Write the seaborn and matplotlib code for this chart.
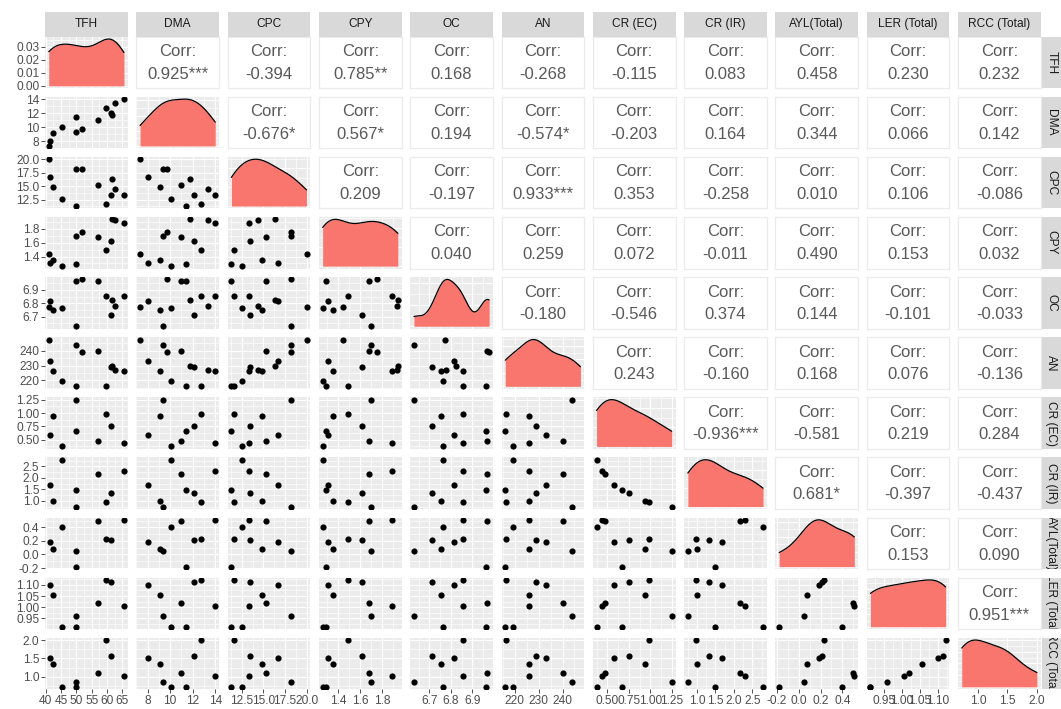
import numpy as np
import pandas as pd
import seaborn as sns
import matplotlib
matplotlib.use("Agg")
import matplotlib.pyplot as plt
from matplotlib.ticker import MaxNLocator, FixedLocator

sns.set_style("white")
plt.rcParams["font.family"] = ["Liberation Sans", "DejaVu Sans"]

nan = np.nan

# ---- data -------------------------------------------------------------
var_names = ["TFH", "DMA", "CPC", "CPY", "OC", "AN", "CR (EC)", "CR (IR)",
             "AYL(Total)", "LER (Total)", "RCC (Total)"]

tfh = [41.0, 41.4, 42.3, 45.4, 49.8, 49.9, 51.8, 57.1, 59.7, 61.3, 61.7, 62.7, 65.5]
dma = [7.33, 8.0, 9.11, 10.08, 9.37, 11.42, 9.72, 10.98, 12.74, 12.09, 11.8, 13.38, 14.0]
cpc = [20.0, 16.7, 14.9, 12.56, 18.2, 11.3, 18.2, 15.3, 11.6, 13.4, 16.3, 14.4, 13.35]
cpy = [1.44, 1.31, 1.35, 1.26, 1.70, 1.29, 1.75, 1.68, 1.49, 1.62, 1.94, 1.93, 1.89]
oc = [6.772, 6.815, 6.752, 6.765, 6.628, 6.965, 6.978, 6.970, 6.857, 6.710, 6.822, 6.777, 6.857]
an = [247.5, 233.0, 226.0, 219.3, 244.0, 216.0, 239.4, 240.0, 216.2, 229.0, 230.0, 227.3, 226.0]
cr_ec = [nan, 0.58, 0.94, 0.375, 1.25, 0.67, nan, 0.47, 0.99, 0.75, nan, nan, 0.44]
cr_ir = [nan, 1.67, 1.01, 2.79, 0.75, 1.48, nan, 2.16, 0.97, 1.33, nan, nan, 2.31]
ayl = [nan, 0.19, 0.08, 0.40, 0.05, -0.18, nan, 0.50, 0.23, 0.21, nan, nan, 0.51]
ler = [nan, 1.10, 1.055, 0.913, 0.96, 0.913, nan, 1.02, 1.122, 1.115, nan, nan, 1.005]
rcc = [nan, 1.50, 1.336, 0.727, 0.864, 0.727, nan, 1.11, 2.0, 1.56, nan, nan, 1.02]

# axis break labels for each variable
ticks_tfh = ["40", "45", "50", "55", "60", "65"]
ticks_dma = ["8", "10", "12", "14"]
ticks_cpc = ["12.5", "15.0", "17.5", "20.0"]
ticks_cpy = ["1.4", "1.6", "1.8"]
ticks_oc = ["6.7", "6.8", "6.9"]
ticks_an = ["220", "230", "240"]
ticks_cr_ec = ["0.50", "0.75", "1.00", "1.25"]
ticks_cr_ir = ["1.0", "1.5", "2.0", "2.5"]
ticks_ayl = ["-0.2", "0.0", "0.2", "0.4"]
ticks_ler = ["0.95", "1.00", "1.05", "1.10"]
ticks_rcc = ["1.0", "1.5", "2.0"]
ticks_density = ["0.00", "0.01", "0.02", "0.03"]

# correlation labels, upper triangle, row by row
corr_labels = [
    ["0.925***", "-0.394", "0.785**", "0.168", "-0.268", "-0.115", "0.083", "0.458", "0.230", "0.232"],
    ["-0.676*", "0.567*", "0.194", "-0.574*", "-0.203", "0.164", "0.344", "0.066", "0.142"],
    ["0.209", "-0.197", "0.933***", "0.353", "-0.258", "0.010", "0.106", "-0.086"],
    ["0.040", "0.259", "0.072", "-0.011", "0.490", "0.153", "0.032"],
    ["-0.180", "-0.546", "0.374", "0.144", "-0.101", "-0.033"],
    ["0.243", "-0.160", "0.168", "0.076", "-0.136"],
    ["-0.936***", "-0.581", "0.219", "0.284"],
    ["0.681*", "-0.397", "-0.437"],
    ["0.153", "0.090"],
    ["0.951***"],
]

df = pd.DataFrame(dict(zip(var_names, [tfh, dma, cpc, cpy, oc, an, cr_ec, cr_ir, ayl, ler, rcc])))
tick_map = dict(zip(var_names, [ticks_tfh, ticks_dma, ticks_cpc, ticks_cpy, ticks_oc, ticks_an,
                                ticks_cr_ec, ticks_cr_ir, ticks_ayl, ticks_ler, ticks_rcc]))

# ---- style ------------------------------------------------------------
PANEL_BG = "#EBEBEB"
STRIP_BG = "#D9D9D9"
FILL = "#F8766D"
TICK_TXT = "#4D4D4D"
TICK_COL = "#333333"
TEXT_COL = "#595959"
TICK_FS = 8.6
STRIP_FS = 8.6
CORR_FS = 12

W, H = 1061, 709
fig = plt.figure(figsize=(W / 100, H / 100), dpi=100)

COL_X0, COL_STEP, PANEL_W = 45.0, 91.3, 82.7
ROW_Y0, ROW_STEP, PANEL_H = 36.7, 60.1, 51.5
STRIP_TOP, STRIP_H = 11.7, 25.0
RSTRIP_X, RSTRIP_W = 1041.5, 19.5


def px_axes(x0, y0, w, h):
    return fig.add_axes([x0 / W, 1 - (y0 + h) / H, w / W, h / H])


def limits(v):
    v = pd.Series(v).dropna()
    lo, hi = v.min(), v.max()
    pad = 0.05 * (hi - lo)
    return lo - pad, hi + pad


def minor_from(major, lo, hi):
    if len(major) < 2:
        return []
    step = major[1] - major[0]
    cand = [m - step / 2 for m in major] + [major[-1] + step / 2]
    return [c for c in cand if lo <= c <= hi]


def style_grid(ax, xmaj, ymaj):
    xlo, xhi = ax.get_xlim()
    ylo, yhi = ax.get_ylim()
    ax.xaxis.set_major_locator(FixedLocator(xmaj))
    ax.yaxis.set_major_locator(FixedLocator(ymaj))
    ax.xaxis.set_minor_locator(FixedLocator(minor_from(xmaj, xlo, xhi)))
    ax.yaxis.set_minor_locator(FixedLocator(minor_from(ymaj, ylo, yhi)))
    ax.set_facecolor(PANEL_BG)
    ax.grid(which="major", color="white", linewidth=0.85)
    ax.grid(which="minor", color="white", linewidth=0.45)
    ax.set_axisbelow(True)
    for s in ax.spines.values():
        s.set_visible(False)


n = len(var_names)
lims = {v: limits(df[v]) for v in var_names}
breaks = {v: [float(t) for t in tick_map[v]] for v in var_names}

for i, rv in enumerate(var_names):
    for j, cv in enumerate(var_names):
        ax = px_axes(COL_X0 + j * COL_STEP, ROW_Y0 + i * ROW_STEP, PANEL_W, PANEL_H)
        ax.tick_params(which="both", length=0, labelleft=False, labelbottom=False)
        if i < j:
            # correlation text
            ax.set_facecolor("white")
            ax.set_xticks([])
            ax.set_yticks([])
            for s in ax.spines.values():
                s.set_color(PANEL_BG)
                s.set_linewidth(0.9)
            ax.text(0.5, 0.71, "Corr:", ha="center", va="center", transform=ax.transAxes,
                    fontsize=CORR_FS, color=TEXT_COL)
            ax.text(0.5, 0.27, corr_labels[i][j - i - 1], ha="center", va="center",
                    transform=ax.transAxes, fontsize=CORR_FS, color=TEXT_COL)
            continue
        if i == j:
            vals = df[cv].dropna().to_numpy()
            sd = vals.std(ddof=1)
            iqr = np.subtract(*np.percentile(vals, [75, 25]))
            adj = 0.9 * min(sd, iqr / 1.34) / sd
            sns.kdeplot(x=vals, ax=ax, fill=True, color=FILL, alpha=1, linewidth=0,
                        bw_adjust=adj, cut=0)
            sns.kdeplot(x=vals, ax=ax, color="black", linewidth=0.9, bw_adjust=adj, cut=0)
            dmax = ax.lines[-1].get_ydata().max()
            ax.set_xlim(*lims[cv])
            ax.set_ylim(-0.05 * dmax, 1.05 * dmax)
            if i == 0:
                ymaj = [float(t) for t in ticks_density]
            else:
                ymaj = list(MaxNLocator(nbins=4, steps=[1, 2, 2.5, 5, 10]).tick_values(0, dmax))
                ymaj = [y for y in ymaj if -0.05 * dmax <= y <= 1.05 * dmax]
            style_grid(ax, breaks[cv], ymaj)
        else:
            sub = df[[cv, rv]].dropna()
            sns.scatterplot(x=sub[cv], y=sub[rv], ax=ax, color="black", s=20,
                            edgecolor=None, linewidth=0)
            ax.set_xlim(*lims[cv])
            ax.set_ylim(*lims[rv])
            style_grid(ax, breaks[cv], breaks[rv])
        ax.set_xlabel("")
        ax.set_ylabel("")
        if j == 0:
            ax.tick_params(axis="y", which="major", left=True, labelleft=True, length=2.6,
                           width=0.6, color=TICK_COL, labelcolor=TICK_TXT, labelsize=TICK_FS, pad=1.5)
            ax.set_yticklabels(ticks_density if i == 0 else tick_map[rv])
        if i == n - 1:
            ax.tick_params(axis="x", which="major", bottom=True, labelbottom=True, length=2.6,
                           width=0.6, color=TICK_COL, labelcolor=TICK_TXT, labelsize=TICK_FS, pad=1.5)
            ax.set_xticklabels(tick_map[cv])

# top strips
for j, cv in enumerate(var_names):
    sa = px_axes(COL_X0 + j * COL_STEP, STRIP_TOP, PANEL_W, STRIP_H)
    sa.set_facecolor(STRIP_BG)
    sa.set_xticks([])
    sa.set_yticks([])
    for s in sa.spines.values():
        s.set_visible(False)
    sa.text(0.5, 0.5, cv, ha="center", va="center", transform=sa.transAxes,
            fontsize=STRIP_FS, color="#1A1A1A", clip_on=True)

# right strips
for i, rv in enumerate(var_names):
    sa = px_axes(RSTRIP_X, ROW_Y0 + i * ROW_STEP, RSTRIP_W, PANEL_H)
    sa.set_facecolor(STRIP_BG)
    sa.set_xticks([])
    sa.set_yticks([])
    for s in sa.spines.values():
        s.set_visible(False)
    sa.text(0.5, 0.5, rv, ha="center", va="center", rotation=-90, transform=sa.transAxes,
            fontsize=STRIP_FS, color="#1A1A1A", clip_on=True)

fig.savefig("out.png", dpi=100, facecolor="white")
